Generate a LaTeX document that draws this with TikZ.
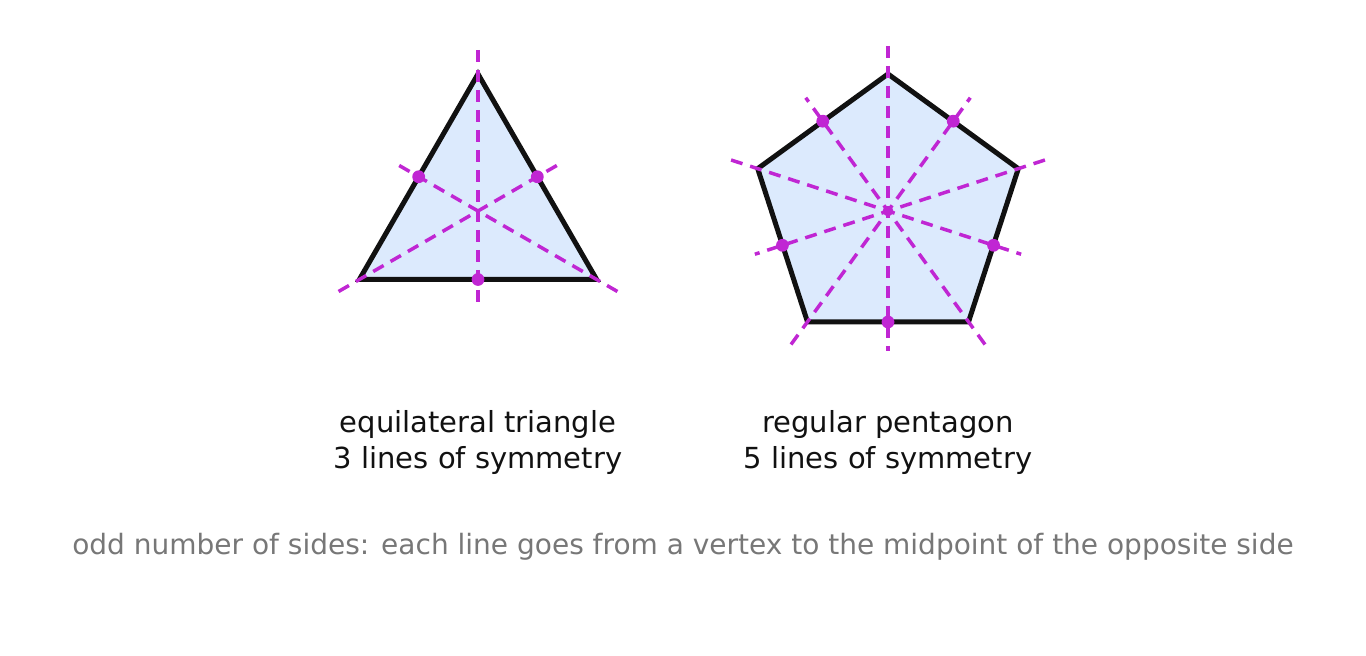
\documentclass[tikz,border=0pt]{standalone}
\usepackage{fontspec}
\setmainfont{DejaVu Sans}
\definecolor{fillc}{HTML}{DCEAFD}
\definecolor{sym}{HTML}{C026D3}
\definecolor{edge}{HTML}{111111}
\definecolor{note}{HTML}{777777}
\begin{document}
\begin{tikzpicture}[x=0.5pt,y=0.5pt,
  poly/.style={draw=edge,line width=2.5pt,fill=fillc,line join=miter},
  symline/.style={draw=sym,line width=1.75pt,dash pattern=on 6pt off 4pt},
  dot/.style={fill=sym},
  lab/.style={font=\fontsize{14.5}{18}\selectfont,text=edge,align=center},
  notes/.style={font=\fontsize{14}{17}\selectfont,text=note}]
\useasboundingbox (0,0) rectangle (1366,-656);
% triangle
\coordinate (T) at (478,-211);
\filldraw[poly] ([shift={(90:137)}]T) -- ([shift={(210:137)}]T) -- ([shift={(330:137)}]T) -- cycle;
\foreach \a in {90,210,330}{
  \draw[symline] ([shift={(\a:161)}]T) -- ([shift={(\a+180:92)}]T);
  \fill[dot] ([shift={(\a+180:68.5)}]T) circle (3.2pt);
}
% pentagon
\coordinate (P) at (888,-211);
\filldraw[poly] ([shift={(90:137)}]P) -- ([shift={(162:137)}]P) -- ([shift={(234:137)}]P) -- ([shift={(306:137)}]P) -- ([shift={(18:137)}]P) -- cycle;
\foreach \a in {90,162,234,306,18}{
  \draw[symline] ([shift={(\a:165)}]P) -- ([shift={(\a+180:140)}]P);
  \fill[dot] ([shift={(\a+180:111)}]P) circle (3.2pt);
}
\node[lab] (l1) at (478,-443) {equilateral triangle\\3 lines of symmetry};
\node[lab] (l2) at (888,-443) {regular pentagon\\5 lines of symmetry};
\node[notes] (n) at (683,-547) {odd number of sides: each line goes from a vertex to the midpoint of the opposite side};
\end{tikzpicture}
\end{document}
